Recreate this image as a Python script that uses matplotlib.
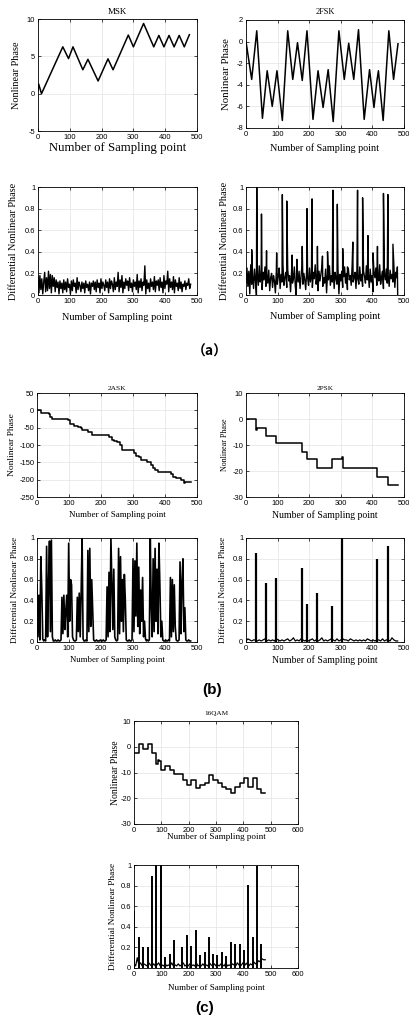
import numpy as np
import matplotlib
matplotlib.use('Agg')
import matplotlib.pyplot as plt
from matplotlib.ticker import FormatStrFormatter

# ---------------- data ----------------
# MSK nonlinear phase (triangle vertices)
msk_x = [0, 2, 11, 78, 96, 110, 141, 157, 189, 220, 236, 284, 300, 332, 364, 380, 396, 412, 428, 444, 460, 476]
msk_y = [0.4, 1.3, 0.0, 6.27, 4.7, 6.27, 3.2, 4.6, 1.7, 4.66, 3.2, 7.85, 6.27, 9.4, 6.27, 7.8, 6.27, 7.8, 6.27, 7.8, 6.27, 7.9]

# 2FSK nonlinear phase (zigzag vertices)
fsk_x = [0, 18, 34, 52, 67, 83, 98, 115, 132, 148, 163, 178, 193, 212, 228, 244, 260, 276,
         294, 311, 325, 341, 356, 374, 391, 405, 414, 419, 434, 452, 467, 481]
fsk_y = [0.0, -3.5, 1.0, -7.1, -2.7, -6.0, -2.7, -7.3, 1.0, -3.5, -0.1, -3.6, 1.0, -7.2, -2.7, -6.1, -2.6, -7.4,
         1.0, -3.5, -0.15, -3.5, 1.1, -7.2, -2.6, -6.1, -3.7, -2.7, -7.3, 1.0, -3.5, -0.2]

# sampling step of the noisy differential curves
step = 3

msk_diff = [
    0.17, 0.02, 0.18, 0.05, 0.15, 0.01, 0.12, 0.21, 0.03, 0.16,
    0.04, 0.22, 0.06, 0.19, 0.02, 0.18, 0.08, 0.16, 0.03, 0.14,
    0.07, 0.12, 0.01, 0.13, 0.06, 0.11, 0.02, 0.14, 0.05, 0.12,
    0.03, 0.15, 0.07, 0.10, 0.01, 0.13, 0.04, 0.14, 0.08, 0.11,
    0.02, 0.16, 0.05, 0.12, 0.09, 0.03, 0.12, 0.06, 0.11, 0.02,
    0.13, 0.07, 0.10, 0.04, 0.12, 0.01, 0.11, 0.08, 0.13, 0.05,
    0.12, 0.03, 0.14, 0.07, 0.11, 0.02, 0.15, 0.06, 0.12, 0.09,
    0.04, 0.14, 0.07, 0.12, 0.02, 0.15, 0.06, 0.13, 0.10, 0.03,
    0.16, 0.05, 0.12, 0.08, 0.21, 0.03, 0.14, 0.07, 0.18, 0.02,
    0.12, 0.06, 0.15, 0.09, 0.13, 0.04, 0.16, 0.07, 0.11, 0.03,
    0.14, 0.08, 0.12, 0.05, 0.19, 0.02, 0.13, 0.07, 0.15, 0.04,
    0.12, 0.09, 0.27, 0.01, 0.14, 0.06, 0.11, 0.03, 0.15, 0.08,
    0.12, 0.05, 0.17, 0.03, 0.13, 0.09, 0.14, 0.04, 0.16, 0.07,
    0.12, 0.02, 0.18, 0.06, 0.13, 0.10, 0.22, 0.03, 0.15, 0.07,
    0.12, 0.05, 0.17, 0.02, 0.14, 0.08, 0.11, 0.04, 0.16, 0.06,
    0.12, 0.03, 0.10, 0.08, 0.13, 0.05, 0.11, 0.09, 0.15, 0.06,
    0.10]

fsk_diff_base = [
    0.12, 0.25, 0.08, 0.22, 0.01, 0.28, 0.10, 0.18, 0.06, 0.24,
    0.13, 0.00, 0.20, 0.09, 0.27, 0.12, 0.17, 0.05, 0.21, 0.14,
    0.26, 0.08, 0.19, 0.11, 0.23, 0.04, 0.16, 0.20, 0.07, 0.18,
    0.13, 0.02, 0.22, 0.10, 0.17, 0.25, 0.06, 0.19, 0.12, 0.28,
    0.09, 0.16, 0.21, 0.07, 0.24, 0.13, 0.18, 0.03, 0.20, 0.11,
    0.15, 0.26, 0.08, 0.00, 0.19, 0.12, 0.22, 0.06, 0.17, 0.27,
    0.10, 0.20, 0.14, 0.05, 0.23, 0.16, 0.09, 0.25, 0.12, 0.18,
    0.07, 0.21, 0.15, 0.28, 0.10, 0.17, 0.04, 0.22, 0.13, 0.19,
    0.26, 0.08, 0.16, 0.11, 0.24, 0.02, 0.20, 0.14, 0.27, 0.09,
    0.18, 0.12, 0.23, 0.06, 0.21, 0.15, 0.10, 0.25, 0.01, 0.19,
    0.13, 0.22, 0.07, 0.17, 0.26, 0.11, 0.20, 0.05, 0.24, 0.14,
    0.18, 0.09, 0.28, 0.12, 0.16, 0.21, 0.06, 0.23, 0.15, 0.10,
    0.26, 0.13, 0.19, 0.08, 0.22, 0.17, 0.11, 0.27, 0.14, 0.20,
    0.07, 0.24, 0.12, 0.18, 0.03, 0.21, 0.16, 0.25, 0.09, 0.19,
    0.13, 0.28, 0.10, 0.17, 0.22, 0.06, 0.20, 0.14, 0.24, 0.11,
    0.18, 0.08, 0.23, 0.15, 0.19, 0.12, 0.26, 0.07, 0.21, 0.16,
    0.00]
fsk_spike_x = [18, 34, 49, 65, 97, 115, 129, 146, 161, 178, 193, 209, 226, 242, 258, 275, 289,
               306, 321, 338, 353, 369, 386, 402, 416, 435, 449, 465, 479]
fsk_spike_y = [0.42, 1.0, 0.75, 0.41, 0.39, 0.93, 0.87, 0.37, 0.33, 0.45, 0.80, 0.89, 0.45, 0.36, 0.40, 0.97, 0.84,
               0.43, 0.26, 0.49, 0.97, 0.90, 0.55, 0.39, 0.45, 0.94, 0.93, 0.47, 0.26]

# 2ASK nonlinear phase (staircase)
ask_x = [0, 10, 14, 36, 42, 46, 98, 104, 116, 128, 136, 142, 155, 160, 172, 226, 233, 240, 250, 258, 266,
         303, 310, 318, 326, 345, 355, 362, 370, 378, 418, 425, 433, 450, 458, 464, 480]
ask_y = [2, 0, -7, -12, -18, -25, -29, -40, -45, -49, -52, -57, -58, -63, -70, -78, -85, -88, -90, -100, -114,
         -124, -132, -136, -144, -150, -158, -166, -172, -177, -185, -192, -196, -200, -210, -207, -207]

ask_diff = [
    0.55, 0.05, 0.45, 0.02, 0.82, 0.50,
    0.03, 0.01, 0.02, 0.01,
    0.92, 0.05, 0.55, 0.97, 0.10, 0.98,
    0.05,
    0.01, 0.01, 0.02, 0.01, 0.01, 0.02, 0.01, 0.01, 0.02,
    0.43, 0.08, 0.45, 0.12, 0.30, 0.45, 0.05, 0.95, 0.20, 0.60, 0.55,
    0.05, 0.02, 0.01, 0.01, 0.02,
    0.43, 0.10, 0.47, 0.05, 0.48, 1.00,
    0.03, 0.01, 0.01, 0.02, 0.01,
    0.88, 0.10, 0.90, 0.15, 0.60, 0.30,
    0.02, 0.01, 0.01, 0.02, 0.01, 0.01, 0.01, 0.02, 0.01, 0.01, 0.02, 0.01, 0.01, 0.02,
    0.53, 0.05, 0.67, 0.10, 1.00, 0.58, 0.12, 0.70,
    0.05, 0.02, 0.01, 0.02,
    0.90, 0.08, 0.82, 0.20, 0.60, 0.10, 0.65, 0.40,
    0.02, 0.01, 0.01, 0.02, 0.01, 0.01, 0.02,
    0.80, 0.10, 0.78, 0.25, 0.95, 0.15, 0.72, 0.08, 0.50, 0.20, 0.62, 0.05, 0.20, 0.03,
    0.01, 0.02, 0.01, 0.02,
    1.00, 0.35, 0.05, 0.80, 0.10, 0.90, 0.20, 0.70, 0.08, 0.95, 0.55, 0.05, 0.20,
    0.02, 0.01, 0.01, 0.02, 0.01, 0.01, 0.02, 0.01,
    0.62, 0.05, 0.60, 0.10, 0.55, 0.15,
    0.02, 0.01, 0.01, 0.02,
    0.77, 0.08, 0.58, 0.80, 0.10, 0.33,
    0.02, 0.01, 0.01, 0.02, 0.01, 0.01]

# 2PSK nonlinear phase (staircase)
psk_x = [0, 32, 34, 64, 96, 176, 192, 224, 272, 304, 306, 416, 448, 480]
psk_y = [0, -4.2, -3.3, -6.5, -9.3, -12.8, -15.5, -18.8, -15.5, -14.5, -18.8, -22.3, -25.2, -25.2]

base_step = 6
psk_diff_base = [
    0.01, 0.03, 0.02, 0.01, 0.02, 0.02, 0.01, 0.02, 0.01, 0.02,
    0.03, 0.01, 0.02, 0.01, 0.02, 0.01, 0.03, 0.02, 0.01, 0.02,
    0.01, 0.02, 0.03, 0.01, 0.02, 0.04, 0.01, 0.02, 0.01, 0.03,
    0.02, 0.01, 0.02, 0.01, 0.02, 0.03, 0.01, 0.02, 0.01, 0.02,
    0.04, 0.01, 0.02, 0.01, 0.02, 0.03, 0.02, 0.01, 0.03, 0.01,
    0.02, 0.03, 0.02, 0.02, 0.01, 0.03, 0.02, 0.01, 0.02, 0.01,
    0.02, 0.01, 0.02, 0.01, 0.03, 0.02, 0.01, 0.02, 0.01, 0.02,
    0.02, 0.01, 0.03, 0.01, 0.02, 0.02, 0.01, 0.04, 0.02, 0.01,
    0.01]
psk_spike_x = [32, 64, 96, 176, 192, 224, 272, 304, 416, 448]
psk_spike_y = [0.86, 0.57, 0.62, 0.71, 0.37, 0.47, 0.35, 1.00, 0.80, 0.92]

# 16QAM nonlinear phase (staircase)
qam_x = [0, 18, 34, 50, 66, 80, 86, 92, 98, 114, 130, 146, 178, 194, 210, 226, 242, 258, 274, 290,
         306, 322, 338, 354, 370, 386, 402, 418, 434, 450, 466, 480]
qam_y = [-2.3, 1.2, -0.7, 1.2, -2.3, -6.8, -5.0, -5.5, -9.0, -7.5, -9.0, -10.5, -12.8, -15.0, -12.8, -16.0,
         -15.0, -14.0, -11.0, -13.0, -14.0, -15.5, -16.3, -18.0, -15.8, -14.2, -12.0, -15.5, -12.0, -16.3,
         -18.0, -18.0]

qam_diff_base = [
    0.04, 0.02, 0.10, 0.03, 0.05, 0.02, 0.04, 0.03, 0.02, 0.05,
    0.03, 0.02, 0.04, 0.02, 0.03, 0.05, 0.02, 0.03, 0.02, 0.04,
    0.02, 0.03, 0.02, 0.05, 0.02, 0.03, 0.02, 0.04, 0.02, 0.03,
    0.05, 0.02, 0.03, 0.02, 0.04, 0.02, 0.03, 0.02, 0.05, 0.02,
    0.03, 0.02, 0.04, 0.02, 0.03, 0.02, 0.05, 0.03, 0.02, 0.04,
    0.02, 0.03, 0.02, 0.04, 0.03, 0.02, 0.05, 0.02, 0.03, 0.02,
    0.04, 0.03, 0.02, 0.05, 0.03, 0.02, 0.04, 0.06, 0.03, 0.05,
    0.02, 0.04, 0.03, 0.06, 0.04, 0.05, 0.07, 0.06, 0.09, 0.08,
    0.08]
qam_spike_x = [0, 18, 33, 50, 66, 82, 97, 100, 114, 130, 146, 177, 193, 210, 226, 242, 258, 274, 290,
               305, 321, 338, 354, 370, 386, 402, 418, 434, 450, 466]
qam_spike_y = [0.55, 0.30, 0.20, 0.20, 0.89, 1.00, 1.00, 0.98, 0.11, 0.14, 0.27, 0.20, 0.32, 0.21, 0.37,
               0.13, 0.16, 0.30, 0.14, 0.13, 0.16, 0.12, 0.25, 0.23, 0.23, 0.17, 0.81, 0.30, 0.99, 0.23]

xlabel = 'Number of Sampling point'
ylab_phase = 'Nonlinear Phase'
ylab_diff = 'Differential Nonlinear Phase'

# ---------------- figure ----------------
W, H = 410, 1026
fig = plt.figure(figsize=(W / 100, H / 100), dpi=100)
serif = ['Liberation Serif', 'DejaVu Serif']
sans = ['Liberation Sans', 'DejaVu Sans']


def panel(box, xlim, xticks, ylim, yticks, ylab, sizes, lab_px, title=None, title_px=None):
    l, t, r, b = box
    ax = fig.add_axes([l / W, 1 - b / H, (r - l) / W, (b - t) / H])
    ax.set_xlim(*xlim)
    ax.set_ylim(*ylim)
    ax.set_xticks(xticks)
    ax.set_yticks(yticks)
    ax.yaxis.set_major_formatter(FormatStrFormatter('%g'))
    ax.grid(True, color='#e3e3e3', lw=0.5)
    ax.set_axisbelow(True)
    ax.tick_params(direction='in', top=True, right=True, length=2, width=0.5,
                   labelsize=5.4, pad=2)
    for lab in ax.get_xticklabels() + ax.get_yticklabels():
        lab.set_family(sans)
    for s in ax.spines.values():
        s.set_linewidth(0.6)
    xs, ys, ts = sizes
    ax.set_xlabel(xlabel, family=serif, fontsize=xs, va='center')
    ax.set_ylabel(ylab, family=serif, fontsize=ys, va='center')
    ax.xaxis.set_label_coords(0.5, -(lab_px[1] - b) / (b - t))
    ax.yaxis.set_label_coords((lab_px[0] - l) / (r - l), 0.5)
    if title:
        ax.text(0.5, (t - title_px) / (b - t) + 1, title, transform=ax.transAxes,
                ha='center', va='center', family=serif, fontsize=ts)
    return ax


def merged(bx, by, sx, sy):
    x = np.concatenate([bx, sx])
    y = np.concatenate([by, sy])
    order = np.argsort(x, kind='stable')
    return x[order], y[order]


x500 = range(0, 501, 100)
diff_ticks = [0, 0.2, 0.4, 0.6, 0.8, 1]
noise_x = np.arange(len(msk_diff)) * step
base_x = np.arange(len(psk_diff_base)) * base_step

# (a) MSK / 2FSK
ax = panel((38, 19, 197, 131), (0, 500), x500, (-5, 10), [-5, 0, 5, 10], ylab_phase,
           (9.2, 7.4, 6.5), (17, 148), 'MSK', 12)
ax.plot(msk_x, msk_y, color='black', lw=1.1)

ax = panel((246, 20, 404, 128), (0, 500), x500, (-8, 2), [-8, -6, -4, -2, 0, 2], ylab_phase,
           (7.3, 7.8, 6.0), (227, 148), '2FSK', 12)
ax.plot(fsk_x, fsk_y, color='black', lw=1.1)

ax = panel((38, 187, 197, 295), (0, 500), x500, (0, 1), diff_ticks, ylab_diff,
           (7.4, 7.3, 6), (14, 317))
ax.plot(noise_x, msk_diff, color='black', lw=1.0)

ax = panel((246, 187, 404, 295), (0, 500), x500, (0, 1), diff_ticks, ylab_diff,
           (7.4, 7.4, 6), (225, 316))
fx, fy = merged(np.arange(len(fsk_diff_base)) * step, fsk_diff_base, fsk_spike_x, fsk_spike_y)
ax.plot(fx, fy, color='black', lw=1.0)

# (b) 2ASK / 2PSK
ax = panel((37, 393, 197, 497), (0, 500), x500, (-250, 50), range(-250, 51, 50), ylab_phase,
           (6.5, 6.8, 5.4), (12, 515), '2ASK', 388)
ax.plot(ask_x, ask_y, color='black', lw=1.1, drawstyle='steps-post')

ax = panel((246, 393, 404, 497), (0, 500), x500, (-30, 10), range(-30, 11, 10), ylab_phase,
           (7.0, 5.8, 5.2), (225, 515), '2PSK', 388)
ax.plot(psk_x, psk_y, color='black', lw=1.1, drawstyle='steps-post')

ax = panel((37, 538, 197, 642), (0, 500), x500, (0, 1), diff_ticks, ylab_diff,
           (6.3, 6.6, 6), (15, 660))
ax.plot(noise_x, ask_diff, color='black', lw=1.2)

ax = panel((246, 538, 404, 642), (0, 500), x500, (0, 1), diff_ticks, ylab_diff,
           (7.0, 6.6, 6), (223, 660))
ax.plot(base_x, psk_diff_base, color='black', lw=0.9)
ax.vlines(psk_spike_x, 0, psk_spike_y, color='black', lw=1.6)

# (c) 16QAM
x600 = range(0, 601, 100)
ax = panel((134, 721, 298, 824), (0, 600), x600, (-30, 10), range(-30, 11, 10), ylab_phase,
           (6.6, 7.0, 5.2), (115, 837), '16QAM', 713)
ax.plot(qam_x, qam_y, color='black', lw=1.1, drawstyle='steps-post')

ax = panel((134, 865, 298, 968), (0, 600), x600, (0, 1), diff_ticks, ylab_diff,
           (6.5, 6.7, 6), (113, 988))
ax.plot(base_x, qam_diff_base, color='black', lw=0.9)
ax.vlines(qam_spike_x, 0, qam_spike_y, color='black', lw=1.4)

# panel labels
fig.text(210 / W, 1 - 352 / H, '（a）', ha='center', va='center', fontsize=10,
         family=['Noto Sans CJK SC', 'DejaVu Sans'], weight='bold')
fig.text(212 / W, 1 - 690 / H, '(b)', ha='center', va='center', fontsize=11,
         family=sans, weight='bold')
fig.text(205 / W, 1 - 1008 / H, '(c)', ha='center', va='center', fontsize=11,
         family=sans, weight='bold')

fig.savefig('out.png', dpi=100)
